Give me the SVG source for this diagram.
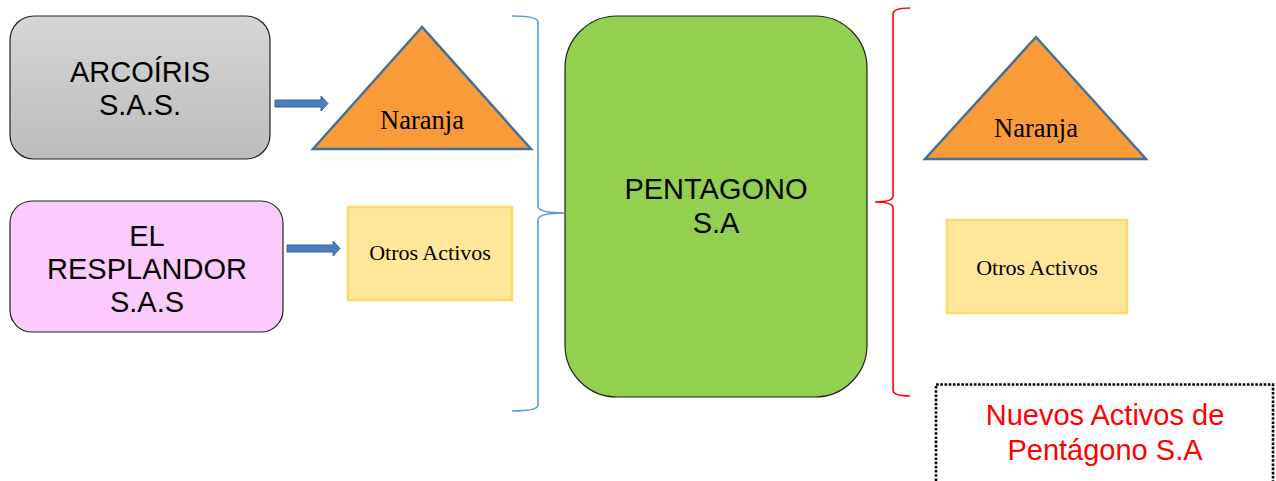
<svg xmlns="http://www.w3.org/2000/svg" width="1276" height="481" viewBox="0 0 1276 481">
<defs>
<linearGradient id="gray" x1="0" y1="0" x2="0" y2="1">
<stop offset="0" stop-color="#d6d6d6"/>
<stop offset="1" stop-color="#bcbcbc"/>
</linearGradient>
<style>
.sans{font-family:"Liberation Sans",Arial,sans-serif;font-size:29px;fill:#000;text-anchor:middle}
.serif{font-family:"Liberation Serif","Times New Roman",serif;fill:#000;text-anchor:middle}
.red{font-family:"Liberation Sans",Arial,sans-serif;font-size:29px;fill:#ff0000;text-anchor:middle}
.box{stroke:#222;stroke-width:1.2}
.tri{fill:#f99b38;stroke:#41719c;stroke-width:2.5;stroke-linejoin:miter}
.otros{fill:#ffe699;stroke:#ffd966;stroke-width:2.5}
.arrow{fill:#4a7ebb;stroke:#3a6597;stroke-width:1}
.brace{fill:none;stroke-width:1.6}
</style>
</defs>
<rect width="1276" height="481" fill="#fff"/>

<g id="arcoiris">
<rect class="box" x="10" y="16" width="260" height="143" rx="24" fill="url(#gray)"/>
<text class="sans" x="140" y="82">ARCOÍRIS</text>
<text class="sans" x="140" y="115">S.A.S.</text>
</g>

<g id="resplandor">
<rect class="box" x="10" y="201" width="273" height="131" rx="22" fill="#fccafc"/>
<text class="sans" x="147" y="246">EL</text>
<text class="sans" x="147" y="279">RESPLANDOR</text>
<text class="sans" x="147" y="312">S.A.S</text>
</g>

<g id="naranja1">
<polygon class="tri" points="422,27 313,149 531,149"/>
<text class="serif" x="422" y="129" font-size="26.5">Naranja</text>
</g>

<g id="otros1">
<rect class="otros" x="348" y="207" width="164" height="93"/>
<text class="serif" x="430" y="260" font-size="22">Otros Activos</text>
</g>

<g id="pentagono">
<rect class="box" x="565" y="16" width="302" height="381" rx="52" fill="#92d050"/>
<text class="sans" x="716" y="199">PENTAGONO</text>
<text class="sans" x="716" y="233">S.A</text>
</g>

<g id="naranja2">
<polygon class="tri" points="1036,37 925,159 1146,159"/>
<text class="serif" x="1036" y="137" font-size="26.5">Naranja</text>
</g>

<g id="otros2">
<rect class="otros" x="947" y="220" width="180" height="93"/>
<text class="serif" x="1037" y="275" font-size="22">Otros Activos</text>
</g>

<g id="nuevos">
<path d="M936,481 V384.5 H1273 V481" fill="none" stroke="#000" stroke-width="2.6" stroke-dasharray="2.6 1.6"/>
<text class="red" x="1105" y="425">Nuevos Activos de</text>
<text class="red" x="1105" y="460">Pentágono S.A</text>
</g>

<g id="connectors">
<path class="arrow" d="M275,100 H321 V96 L328,103.5 L321,111 V107 H275 Z"/>
<path class="arrow" d="M287,245 H333 V241 L340,248.5 L333,256 V252 H287 Z"/>
<path class="brace" stroke="#5b9bd5" d="M512,16 Q538,16 538,22 V206 Q538,213 565,213 Q538,213 538,220 V405 Q538,411 512,411"/>
<path class="brace" stroke="#ff0000" stroke-width="1.8" d="M910,8 Q893,8 893,14 V196 Q893,202 875,202 Q893,202 893,208 V390 Q893,396 910,396"/>
</g>
</svg>
